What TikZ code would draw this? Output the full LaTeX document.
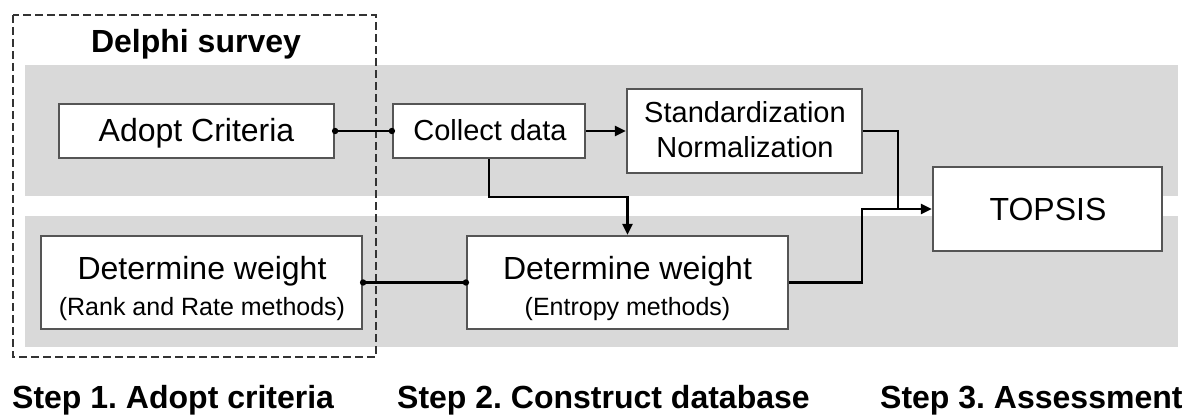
\documentclass[tikz,border=0pt]{standalone}
\usepackage{fontspec}
\setmainfont{Liberation Sans}
\usetikzlibrary{arrows.meta}
\definecolor{bandgray}{HTML}{D9D9D9}
\definecolor{boxline}{HTML}{555555}
\definecolor{dashline}{HTML}{333333}
\frenchspacing
\begin{document}
\begin{tikzpicture}[x=1pt,y=-1pt,
  box/.style={draw=boxline, line width=2.2pt, fill=white, inner sep=0pt},
  txt/.style={anchor=base, inner sep=0pt},
  bigtxt/.style={txt, font=\fontsize{32}{38}\selectfont},
  midtxt/.style={txt, font=\fontsize{29}{34}\selectfont},
  subtxt/.style={txt, font=\fontsize{25}{30}\selectfont},
  steptxt/.style={anchor=base west, inner sep=0pt, font=\fontsize{32}{38}\selectfont\bfseries},
  conn/.style={line width=2.2pt, black},
  arr/.style={conn, -{Triangle[length=11pt,width=10pt]}},
  delphibox/.style={draw=dashline, line width=2pt, dash pattern=on 8pt off 4pt}
]
\useasboundingbox (0,0) rectangle (1195,417);
% bands
\fill[bandgray] (25,65) rectangle (1178,196);
\fill[bandgray] (25,216) rectangle (1178,347);
% Delphi dashed frame
\draw[delphibox] (13,15) rectangle (376,357);
\node[txt, font=\fontsize{32}{38}\selectfont\bfseries] (delphi) at (196,53) {Delphi survey};
% boxes
\node[box, minimum width=275pt, minimum height=54pt] (adopt) at (196.5,131) {};
\node[box, minimum width=192pt, minimum height=54pt] (collect) at (489,131) {};
\node[box, minimum width=235pt, minimum height=84pt] (std) at (744.5,131) {};
\node[box, minimum width=229pt, minimum height=84pt] (topsis) at (1047.5,209) {};
\node[box, minimum width=321pt, minimum height=93pt] (rank) at (201.5,282.5) {};
\node[box, minimum width=321pt, minimum height=93pt] (entropy) at (627.5,282.5) {};
% texts
\node[bigtxt] (adopt-t) at (196.5,142) {Adopt Criteria};
\node[midtxt] (collect-t) at (490,141) {Collect data};
\node[midtxt] (std-t1) at (745,123) {Standardization};
\node[midtxt] (std-t2) at (745,158) {Normalization};
\node[bigtxt] (topsis-t) at (1048,220) {TOPSIS};
\node[bigtxt] (rank-t1) at (202,279) {Determine weight};
\node[subtxt] (rank-t2) at (202,315) {(Rank and Rate methods)};
\node[bigtxt] (ent-t1) at (627.5,279) {Determine weight};
\node[subtxt] (ent-t2) at (627.5,315) {(Entropy methods)};
% step labels
\node[steptxt] (step1) at (12,408) {Step 1. Adopt criteria};
\node[steptxt] (step2) at (397,408) {Step 2. Construct database};
\node[steptxt] (step3) at (880,408) {Step 3. Assessment};
% connectors
\draw[conn] (adopt.east) -- (collect.west);
\fill (adopt.east) circle (3.2pt);
\fill (collect.west) circle (3.2pt);
\draw[conn] (rank.east) -- (entropy.west);
\fill (rank.east) circle (3.2pt);
\fill (entropy.west) circle (3.2pt);
\draw[arr] (collect.east) -- (std.west);
\coordinate (cbend) at (489,197);
\draw[arr] (collect.south) -- (cbend) -| (entropy.north);
\coordinate (join) at (898,209);
\draw[conn] (std.east) -| (join);
\coordinate (ebend) at (862,209);
\draw[arr] (entropy.east) -| (ebend) -- (topsis.west);
\end{tikzpicture}
\end{document}
